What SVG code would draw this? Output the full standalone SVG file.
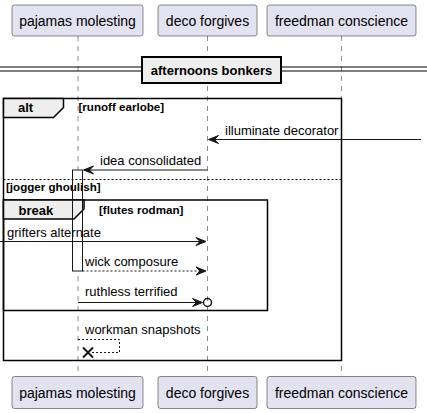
<svg xmlns="http://www.w3.org/2000/svg" width="427" height="413" viewBox="0 0 427 413">
<defs>
<style>
.part{fill:#E2E2F0;stroke:#181818;stroke-width:0.5}
.ptxt{font-family:"Liberation Sans",Arial,sans-serif;font-size:14px;fill:#000;text-anchor:middle}
.life{stroke:#181818;stroke-width:0.5;stroke-dasharray:5,5;fill:none}
.frame{fill:none;stroke:#000;stroke-width:1.5}
.tab{fill:#EEEEEE;stroke:#000;stroke-width:1.5}
.ftitle{font-family:"Liberation Sans",Arial,sans-serif;font-size:13px;font-weight:bold;fill:#000}
.cond{font-family:"Liberation Sans",Arial,sans-serif;font-size:11.6px;font-weight:bold;fill:#000}
.msg{stroke:#181818;stroke-width:1;fill:none}
.dash{stroke-dasharray:2,2}
.mtxt{font-family:"Liberation Sans",Arial,sans-serif;font-size:13px;fill:#000}
.head{fill:#181818;stroke:#181818;stroke-width:1}
</style>
</defs>
<g id="lifelines">
<line class="life" x1="78" y1="36" x2="78" y2="376"/>
<line class="life" x1="207.5" y1="36" x2="207.5" y2="376"/>
<line class="life" x1="341.5" y1="36" x2="341.5" y2="376"/>
</g>
<g id="p1">
<rect class="part" x="12" y="5" width="131" height="31" rx="2.5"/>
<text class="ptxt" x="77.5" y="26">pajamas molesting</text>
<rect class="part" x="12" y="376.5" width="131" height="32" rx="2.5"/>
<text class="ptxt" x="77.5" y="397.5">pajamas molesting</text>
</g>
<g id="p2">
<rect class="part" x="158" y="5" width="99" height="31" rx="2.5"/>
<text class="ptxt" x="207.5" y="26">deco forgives</text>
<rect class="part" x="158" y="376.5" width="99" height="32" rx="2.5"/>
<text class="ptxt" x="207.5" y="397.5">deco forgives</text>
</g>
<g id="p3">
<rect class="part" x="267" y="5" width="149" height="31" rx="2.5"/>
<text class="ptxt" x="341.5" y="26">freedman conscience</text>
<rect class="part" x="267" y="376.5" width="149" height="32" rx="2.5"/>
<text class="ptxt" x="341.5" y="397.5">freedman conscience</text>
</g>
<g id="divider">
<line x1="0" y1="67" x2="427" y2="67" stroke="#000" stroke-width="1"/>
<line x1="0" y1="71" x2="427" y2="71" stroke="#000" stroke-width="1"/>
<rect x="142" y="57" width="139" height="26" fill="#EEEEEE" stroke="#000" stroke-width="2"/>
<text class="ftitle" x="211.5" y="75" text-anchor="middle">afternoons bonkers</text>
</g>
<rect id="activation-fill" x="72.5" y="170" width="10" height="101" fill="#fff"/>
<g id="alt">
<rect class="frame" x="3.5" y="98.5" width="338" height="262"/>
<polygon class="tab" points="3.5,98.5 63.5,98.5 63.5,107.5 53.5,117.5 3.5,117.5"/>
<text class="ftitle" x="18" y="112">alt</text>
<text class="cond" x="78.5" y="111">[runoff earlobe]</text>
<line x1="3.5" y1="179.5" x2="341.5" y2="179.5" stroke="#000" stroke-width="1" stroke-dasharray="2,2"/>
<text class="cond" x="6" y="190.5">[jogger ghoulish]</text>
</g>
<g id="break">
<rect class="frame" x="3.5" y="200" width="264" height="110.5"/>
<polygon class="tab" points="3.5,200 84,200 84,209 74,219 3.5,219"/>
<text class="ftitle" x="18.5" y="215">break</text>
<text class="cond" x="99" y="214">[flutes rodman]</text>
</g>
<rect id="activation" x="72.5" y="170" width="10" height="101" fill="none" stroke="#181818" stroke-width="1"/>
<g id="connectors">
<line class="msg" x1="421" y1="139.5" x2="209" y2="139.5"/>
<polygon class="head" points="208.5,139.5 218.5,135.5 214.5,139.5 218.5,143.5"/>
<text class="mtxt" x="225" y="135">illuminate decorator</text>
<line class="msg" x1="207.5" y1="170" x2="84" y2="170"/>
<polygon class="head" points="83.5,170 93.5,166 89.5,170 93.5,174"/>
<text class="mtxt" x="100" y="165">idea consolidated</text>
<line class="msg" x1="0" y1="241.5" x2="205" y2="241.5"/>
<polygon class="head" points="206,241.5 196,237.5 200,241.5 196,245.5"/>
<text class="mtxt" x="7" y="237">grifters alternate</text>
<line class="msg dash" x1="82.5" y1="271" x2="205" y2="271"/>
<polygon class="head" points="206,271 196,267 200,271 196,275"/>
<text class="mtxt" x="85" y="266">wick composure</text>
<line class="msg" x1="78" y1="302.5" x2="201" y2="302.5"/>
<polygon class="head" points="202.5,302.5 192.5,298.5 196.5,302.5 192.5,306.5"/>
<circle cx="207.5" cy="302.5" r="4" fill="none" stroke="#181818" stroke-width="1.5"/>
<text class="mtxt" x="85" y="296">ruthless terrified</text>
<polyline class="msg dash" points="78,339.5 119.5,339.5 119.5,352.5 90,352.5"/>
<line x1="83" y1="347.5" x2="93" y2="357.5" stroke="#181818" stroke-width="2"/>
<line x1="83" y1="357.5" x2="93" y2="347.5" stroke="#181818" stroke-width="2"/>
<text class="mtxt" x="85" y="334">workman snapshots</text>
</g>
</svg>
